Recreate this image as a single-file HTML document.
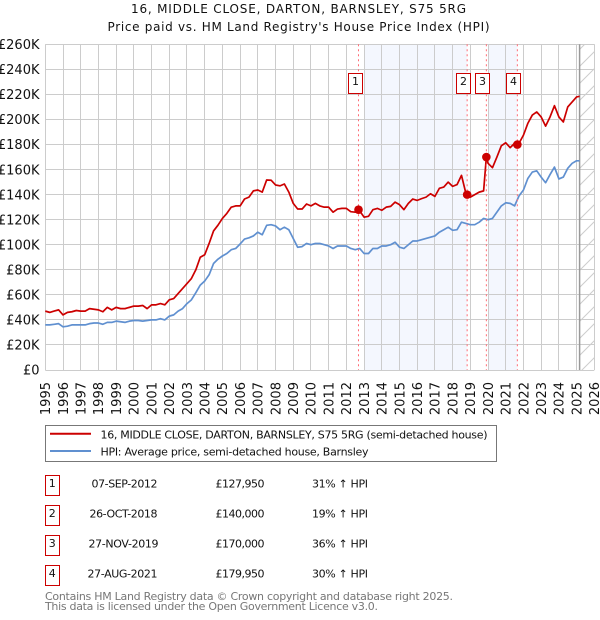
<!DOCTYPE html>
<html lang="en">
<head>
<meta charset="utf-8">
<title>16, MIDDLE CLOSE, DARTON, BARNSLEY, S75 5RG</title>
<style>
html,body{margin:0;padding:0;background:#fff;}
svg{display:block;font-family:"DejaVu Sans","Liberation Sans",sans-serif;}
</style>
</head>
<body>
<svg id="chart" width="600" height="620" viewBox="0 0 600 620" xmlns="http://www.w3.org/2000/svg">
<defs>
<pattern id="hatch" width="17" height="17" patternUnits="userSpaceOnUse">
<path d="M-1 18 L18 -1" stroke="#cccccc" stroke-width="1" fill="none"/>
</pattern>
</defs>
<text x="131" y="13" font-size="12" fill="#111" textLength="335">16, MIDDLE CLOSE, DARTON, BARNSLEY, S75 5RG</text>
<text x="107.5" y="31" font-size="12" fill="#111" textLength="382">Price paid vs. HM Land Registry's House Price Index (HPI)</text>
<g id="plot"></g>

<g>
<rect x="45.5" y="425.5" width="451" height="36" fill="#fff" stroke="#777" stroke-width="1"/>
<line x1="50" x2="91" y1="433.7" y2="433.7" stroke="#cc0000" stroke-width="2"/>
<text x="100.5" y="438.5" font-size="11" fill="#111" textLength="387">16, MIDDLE CLOSE, DARTON, BARNSLEY, S75 5RG (semi-detached house)</text>
<line x1="50" x2="91" y1="451" y2="451" stroke="#6090d0" stroke-width="2"/>
<text x="100.5" y="455.5" font-size="11" fill="#111" textLength="268">HPI: Average price, semi-detached house, Barnsley</text>
</g>

<g font-size="11" fill="#111">
<g>
<rect x="45.5" y="475.5" width="14" height="20" fill="#fff" stroke="#cc0000"/>
<text x="52.3" y="487" text-anchor="middle">1</text>
<text x="157.5" y="487.3" text-anchor="end" textLength="66">07-SEP-2012</text>
<text x="215.5" y="487.3" textLength="49">£127,950</text>
<text x="312" y="487.3" textLength="56">31% ↑ HPI</text>
</g>
<g>
<rect x="45.5" y="505.5" width="14" height="20" fill="#fff" stroke="#cc0000"/>
<text x="52.3" y="517" text-anchor="middle">2</text>
<text x="157.5" y="517.3" text-anchor="end" textLength="68">26-OCT-2018</text>
<text x="215.5" y="517.3" textLength="49">£140,000</text>
<text x="312" y="517.3" textLength="56">19% ↑ HPI</text>
</g>
<g>
<rect x="45.5" y="535.5" width="14" height="20" fill="#fff" stroke="#cc0000"/>
<text x="52.3" y="547" text-anchor="middle">3</text>
<text x="158.5" y="547.3" text-anchor="end" textLength="70">27-NOV-2019</text>
<text x="215.5" y="547.3" textLength="49">£170,000</text>
<text x="312" y="547.3" textLength="56">36% ↑ HPI</text>
</g>
<g>
<rect x="45.5" y="565.5" width="14" height="20" fill="#fff" stroke="#cc0000"/>
<text x="52.3" y="577" text-anchor="middle">4</text>
<text x="157.5" y="577.3" text-anchor="end" textLength="70">27-AUG-2021</text>
<text x="215.5" y="577.3" textLength="49">£179,950</text>
<text x="312" y="577.3" textLength="56">30% ↑ HPI</text>
</g>
</g>

<text x="45" y="600" font-size="11" fill="#777" textLength="408">Contains HM Land Registry data © Crown copyright and database right 2025.</text>
<text x="45" y="610" font-size="11" fill="#777" textLength="333">This data is licensed under the Open Government Licence v3.0.</text>

<script>
var yTickValues = [0,20,40,60,80,100,120,140,160,180,200,220,240,260];
var xTickYears = [1995,1996,1997,1998,1999,2000,2001,2002,2003,2004,2005,2006,2007,2008,2009,2010,2011,2012,2013,2014,2015,2016,2017,2018,2019,2020,2021,2022,2023,2024,2025,2026];
var seriesStartYear = 1995;
var seriesStepYears = 0.25;
var seriesEndYear = 2025.17;
var pricePaidSeries = [
47,46,47,48, 44,46,46.5,47.5, 47,47,49,48.5, 48,46.5,50,48, 50,49,49,50,
51,51,51.5,49, 52,52,53,52, 56,57,61,65, 69,73,80,90, 92,101,111,115.6,
121,125,130,131, 131,136.5,138,143, 143.7,142,151.7,151.5, 147.7,147,148.5,142, 133,128.5,128.5,132.5,
131,133,131,130, 130,126,128.5,129, 129,126.4,126,127, 122,122.7,128,129, 127.5,130,130.6,134,
132,128,133,136.5, 135.4,136.8,138,140.7, 138.6,145,146,150, 146.6,148,155.4,141, 138,140,142,143,
165,161.5,170,179, 181.4,177.5,181,181, 187.5,197,203.5,206, 202,194.7,202,211, 202,198,210,214, 218,218.5
];
var hpiSeries = [
36,36,36.5,37, 34.5,35,36,36, 36,36,37,37.5, 37.5,36.5,38,38, 39,38.5,38,39,
39.5,39.5,39,39.5, 40,40,41,40, 43,44,47,49, 53,56,61.7,67.8, 71,76,85,88.5,
91,93,96,97, 100.6,104.5,105.5,107, 110,108,115.5,116, 115,112,114,112, 105,98,98.5,101,
100,101,101,100, 99,97,99,99, 99,97,96,97, 93,93,97,97, 99,99,100,102,
98,97,100,103, 103,104,105,106, 107,110,112,114, 111.5,112,118,117, 116,116,118,121,
120,121,126,131, 133.5,133,131,139, 143.7,153,158,159, 154,149.5,156,162, 152.5,154,161,165, 167,167
];
var saleLabels = ["1","2","3","4"];
var saleDates = [2012.685,2018.82,2019.905,2021.655];
var salePrices = [127.95,140,170,179.95];
var shadedStarts = [2013,2020];
var shadedEnds = [2018.82,2021.655];

var svgNS = "http://www.w3.org/2000/svg";
var plot = document.getElementById("plot");
var left = 45.3, right = 594.3, top0 = 44.3, bottom = 370;
function xScale(year){ return left + (year - 1995) * (right - left) / 31; }
function yScale(k){ return bottom - k * (bottom - top0) / 260; }
function crisp(v){ return Math.floor(v) + 0.5; }
function make(tag, attrs, parent){
  var el = document.createElementNS(svgNS, tag);
  for (var k in attrs) el.setAttribute(k, attrs[k]);
  (parent || plot).appendChild(el);
  return el;
}

shadedStarts.forEach(function(s, i){
  var r = make("rect", {x:xScale(s), y:top0, width:xScale(shadedEnds[i])-xScale(s), height:bottom-top0, fill:"#f4f7fe"});
  
  
});

var hatchRect = make("rect", {x:xScale(seriesEndYear), y:top0, width:right-xScale(seriesEndYear), height:bottom-top0, fill:"url(#hatch)"});



yTickValues.forEach(function(v){
  var y = crisp(yScale(v));
  var g = make("line", {x1:left, x2:right, y1:y, y2:y, stroke:"#cccccc", "stroke-width":1});
  
  
  var t = make("text", {x:39.5, y:yScale(v)+4.7, "text-anchor":"end", "font-size":13, fill:"#111"});
  
  
  t.textContent = v === 0 ? "£0" : "£" + v + "K";
});

xTickYears.forEach(function(yr){
  var x = crisp(xScale(yr));
  var g = make("line", {x1:x, x2:x, y1:top0, y2:bottom, stroke:"#cccccc", "stroke-width":1});
  
  
  var bx = xScale(yr) + 4.8;
  var t = make("text", {x:bx, y:382, "text-anchor":"end", "font-size":13, fill:"#111", transform:"rotate(-90 "+bx+" 382)"});
  
  
  t.textContent = yr;
});

function seriesPoints(values){
  return values.map(function(v, i){
    return [Math.min(seriesStartYear + i * seriesStepYears, seriesEndYear), v];
  });
}
function toPath(pts){
  return pts.map(function(p, i){
    return (i ? "L" : "M") + xScale(p[0]).toFixed(2) + " " + yScale(p[1]).toFixed(2);
  }).join(" ");
}

var endLine = make("line", {x1:xScale(seriesEndYear), x2:xScale(seriesEndYear), y1:top0, y2:bottom, stroke:"#999999", "stroke-width":1.5});



var hpiLine = make("path", {d:toPath(seriesPoints(hpiSeries)), fill:"none", stroke:"#6090d0", "stroke-width":1.7, "stroke-linejoin":"round"});



var paidPoints = seriesPoints(pricePaidSeries);
saleDates.forEach(function(d, i){ paidPoints.push([d, salePrices[i]]); });
paidPoints.sort(function(a, b){ return a[0] - b[0]; });
var paidLine = make("path", {d:toPath(paidPoints), fill:"none", stroke:"#cc0000", "stroke-width":1.7, "stroke-linejoin":"round"});



saleDates.forEach(function(d, i){
  var x = xScale(d);
  var v = make("line", {x1:x, x2:x, y1:top0, y2:bottom, stroke:"#ff6b75", "stroke-width":1, "stroke-dasharray":"2 3"});
  
  
  var c = make("circle", {cx:x, cy:yScale(salePrices[i]), r:4.3, fill:"#cc0000"});
  
  
  var bx = crisp(x - (i < 2 ? 10.2 : 10.8));
  var b = make("rect", {x:bx, y:73.5, width:14, height:20, fill:"#fff", stroke:"#cc0000", "stroke-width":1});
  
  
  var t = make("text", {x:bx+7, y:85, "text-anchor":"middle", "font-size":11, fill:"#111"});
  
  
  t.textContent = saleLabels[i];
});
</script>
</svg>
</body>
</html>
